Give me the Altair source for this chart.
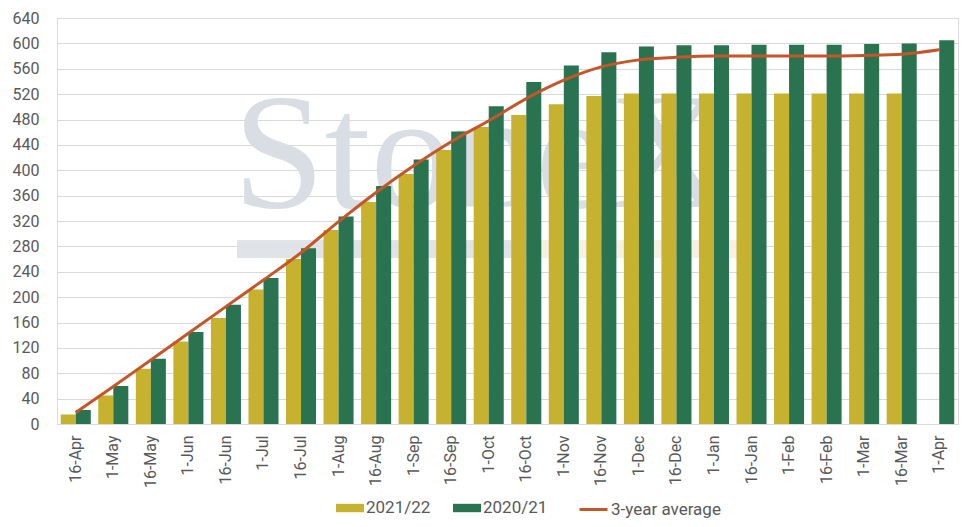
import altair as alt
import pandas as pd

categories = ["16-Apr", "1-May", "16-May", "1-Jun", "16-Jun", "1-Jul", "16-Jul", "1-Aug",
              "16-Aug", "1-Sep", "16-Sep", "1-Oct", "16-Oct", "1-Nov", "16-Nov", "1-Dec",
              "16-Dec", "1-Jan", "16-Jan", "1-Feb", "16-Feb", "1-Mar", "16-Mar", "1-Apr"]
s_2021_22 = [15, 45, 87, 130, 167, 212, 260, 306, 350, 394, 432, 468, 487, 504, 517, 521,
             521, 521, 521, 521, 521, 521, 521, None]
s_2020_21 = [22, 60, 103, 145, 188, 230, 277, 327, 375, 417, 461, 501, 539, 565, 586, 595,
             597, 597, 598, 598, 598, 599, 600, 605]
avg_3yr = [18, 59, 101, 143, 185, 227, 270, 319, 365, 407, 445, 478, 513, 542, 563, 574,
           578, 580, 580, 580, 580, 581, 583, 590]
y_ticks = list(range(0, 641, 40))

series_names = ["2021/22", "2020/21"]
bar_colors = ["#C6B22F", "#2A7351"]
line_color = "#C4562A"
text_color = "#595959"
font = "Roboto"

rows = []
for c, a, b in zip(categories, s_2021_22, s_2020_21):
    if a is not None:
        rows.append({"cat": c, "series": "2021/22", "value": a})
    rows.append({"cat": c, "series": "2020/21", "value": b})
bars_df = pd.DataFrame(rows)
line_df = pd.DataFrame({"cat": categories, "value": avg_3yr, "name": ["3-year average"] * len(categories)})

x_scale = alt.Scale(paddingInner=0.2, paddingOuter=0.1)
y_scale = alt.Scale(domain=[0, 640], nice=False)

x_axis = alt.Axis(title=None, labelAngle=-90, labelFont=font, labelFontSize=16, labelColor=text_color,
                  ticks=False, tickSize=0, labelPadding=11, domainColor="#D9D9D9", domainWidth=1,
                  grid=False)
y_axis = alt.Axis(title=None, values=y_ticks, labelFont=font, labelFontSize=16, labelColor=text_color,
                  ticks=False, tickSize=0, labelPadding=18, domain=False, gridColor="#D9D9D9",
                  gridWidth=1)

wm_text = alt.Chart(pd.DataFrame({"t": ["StoneX"]})).mark_text(
    font="Liberation Serif", fontSize=165, color="#D9DEE4", align="left", baseline="alphabetic"
).encode(x=alt.value(176), y=alt.value(189), text="t:N")

wm_bar = alt.Chart(pd.DataFrame({"t": [1]})).mark_rect(color="#DDE1E6", opacity=0.9).encode(
    x=alt.value(180), x2=alt.value(470), y=alt.value(222), y2=alt.value(240))
wm_bar2 = alt.Chart(pd.DataFrame({"t": [1]})).mark_rect(color="#F5EFE3", opacity=0.9).encode(
    x=alt.value(470), x2=alt.value(683), y=alt.value(222), y2=alt.value(240))

legend_common = dict(orient="none", direction="horizontal", title=None, labelFont=font,
                     labelFontSize=17, labelColor=text_color, labelOffset=2, padding=0)

bars = alt.Chart(bars_df).mark_bar().encode(
    x=alt.X("cat:N", sort=categories, scale=x_scale, axis=x_axis),
    xOffset=alt.XOffset("series:N", sort=series_names),
    y=alt.Y("value:Q", scale=y_scale, axis=y_axis),
    color=alt.Color("series:N", scale=alt.Scale(domain=series_names, range=bar_colors),
                    legend=alt.Legend(legendX=279, legendY=476,
                                      symbolType="M-1,-0.3L1,-0.3L1,0.3L-1,0.3Z",
                                      symbolSize=784, symbolOpacity=1, symbolStrokeWidth=0,
                                      columnPadding=22, **legend_common)),
)

line = alt.Chart(line_df).mark_line(interpolate="monotone", strokeWidth=3).encode(
    x=alt.X("cat:N", sort=categories, scale=x_scale, axis=x_axis),
    y=alt.Y("value:Q", scale=y_scale, axis=y_axis),
    stroke=alt.Stroke("name:N", scale=alt.Scale(domain=["3-year average"], range=[line_color]),
                      legend=alt.Legend(legendX=521, legendY=476, symbolType="stroke",
                                        symbolSize=784, symbolStrokeWidth=3, **legend_common)),
)

chart = alt.layer(wm_text, wm_bar, wm_bar2, bars, line).properties(
    width=901, height=406,
    autosize=alt.AutoSizeParams(type="none"),
    padding={"left": 49, "top": 10, "right": 9, "bottom": 95},
).configure_view(stroke=None).configure(background="white")

chart.save("out.html", embed_options={"renderer": "svg", "actions": False})
